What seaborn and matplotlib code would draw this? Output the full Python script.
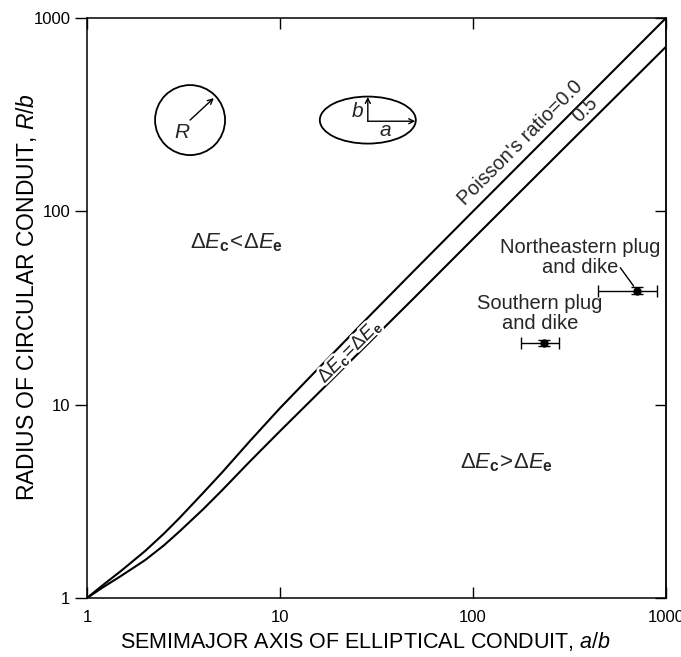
import numpy as np
import pandas as pd
import seaborn as sns
import matplotlib
matplotlib.use("Agg")
import matplotlib.pyplot as plt
import matplotlib.patheffects as pe
from matplotlib.patches import Ellipse, FancyArrowPatch

# ---- data ----
ab_nu0 = [1, 1.2, 1.5, 2, 2.5, 3, 4, 5, 7, 10, 15, 20, 30, 50, 100, 300, 1000]
rb_nu0 = [1, 1.16, 1.38, 1.75, 2.15, 2.58, 3.5, 4.45, 6.5, 9.6, 14.6, 19.6, 29.7, 49.8, 100, 300, 1000]
ab_nu5 = [1, 1.2, 1.5, 2, 2.5, 3, 4, 5, 7, 10, 15, 20, 30, 50, 100, 300, 1000]
rb_nu5 = [1, 1.13, 1.3, 1.57, 1.87, 2.2, 2.88, 3.6, 5.1, 7.3, 10.9, 14.5, 21.7, 36, 72, 215, 710]

site_names = ["Northeastern plug\nand dike", "Southern plug\nand dike"]
site_ab = [707, 233]
site_rb = [38.9, 20.9]
site_ab_lo = [446, 177]
site_ab_hi = [895, 280]
site_rb_lo = [37.4, 20.1]
site_rb_hi = [40.4, 21.7]

x_ticks = [1, 10, 100, 1000]
y_ticks = [1, 10, 100, 1000]
x_label = "SEMIMAJOR AXIS OF ELLIPTICAL CONDUIT, $\\mathit{a/b}$"
y_label = "RADIUS OF CIRCULAR CONDUIT, $\\mathit{R/b}$"

# ---- style ----
sns.set_theme(style="white")
plt.rcParams["font.family"] = ["Liberation Sans", "DejaVu Sans"]
plt.rcParams["mathtext.fontset"] = "custom"
plt.rcParams["mathtext.rm"] = "Liberation Sans"
plt.rcParams["mathtext.it"] = "Liberation Sans:italic"
plt.rcParams["mathtext.bf"] = "Liberation Sans:bold"

fig = plt.figure(figsize=(6.81, 6.57), dpi=100)
ax = fig.add_axes([87 / 681, 1 - 598 / 657, 579 / 681, 580 / 657])

df = pd.DataFrame({
    "ab": ab_nu0 + ab_nu5,
    "rb": rb_nu0 + rb_nu5,
    "nu": ["0.0"] * len(ab_nu0) + ["0.5"] * len(ab_nu5),
})
sns.lineplot(data=df, x="ab", y="rb", hue="nu", palette=["black", "black"],
             legend=False, lw=1.5, ax=ax, zorder=2)

ax.set_xscale("log")
ax.set_yscale("log")
ax.set_xlim(1, 1000)
ax.set_ylim(1, 1000)

# error bars
xerr = [np.array(site_ab) - np.array(site_ab_lo), np.array(site_ab_hi) - np.array(site_ab)]
yerr = [np.array(site_rb) - np.array(site_rb_lo), np.array(site_rb_hi) - np.array(site_rb)]
ax.errorbar(site_ab, site_rb, xerr=xerr, yerr=yerr, fmt="o", color="black",
            ms=5, elinewidth=1.0, capsize=4, capthick=1.0, zorder=3)

# site labels (offsets in points)
ax.annotate(site_names[0], xy=(site_ab[0], site_rb[0]), xytext=(-41, 24),
            textcoords="offset points", ha="center", va="center",
            fontsize=14.5, linespacing=1.05)
ax.annotate(site_names[1], xy=(site_ab[1], site_rb[1]), xytext=(-3, 21),
            textcoords="offset points", ha="center", va="center",
            fontsize=14.5, linespacing=1.05)
ax.annotate("", xy=(site_ab[0], site_rb[0]), xytext=(-12, 16.5),
            textcoords="offset points",
            arrowprops=dict(arrowstyle="-", color="black", lw=1.0,
                            shrinkA=0, shrinkB=4))

# curve labels
ax.text(175, 226, "Poisson's ratio=0.0", rotation=45, ha="center", va="center",
        fontsize=14.2, rotation_mode="anchor")
ax.text(380, 335, "0.5", rotation=45, ha="center", va="center", fontsize=14.2,
        rotation_mode="anchor")
ax.text(23.0, 18.9, r"$\Delta\mathit{E}_{\mathbf{c}}\!=\!\Delta\mathit{E}_{\mathbf{e}}$",
        rotation=45, ha="center", va="center", fontsize=14, rotation_mode="anchor",
        zorder=4, path_effects=[pe.withStroke(linewidth=3.5, foreground="white")])

ax.text(0.258, 0.612, r"$\Delta\mathit{E}_{\mathbf{c}}\!<\!\Delta\mathit{E}_{\mathbf{e}}$",
        transform=ax.transAxes, ha="center", va="center", fontsize=16)
ax.text(0.725, 0.234, r"$\Delta\mathit{E}_{\mathbf{c}}\!>\!\Delta\mathit{E}_{\mathbf{e}}$",
        transform=ax.transAxes, ha="center", va="center", fontsize=16)

# circle and ellipse sketches
circ = Ellipse((0.178, 0.824), 70 / 579, 70 / 580, transform=ax.transAxes,
               fill=False, ec="black", lw=1.3)
ax.add_patch(circ)
ax.add_patch(FancyArrowPatch((0.178, 0.824), (0.219, 0.862), transform=ax.transAxes,
                             arrowstyle="->", mutation_scale=9, color="black", lw=1.0,
                             shrinkA=0, shrinkB=0))
ax.text(0.165, 0.803, "$\\mathit{R}$", transform=ax.transAxes, ha="center", va="center",
        fontsize=15)

ell = Ellipse((0.485, 0.824), 96 / 579, 47 / 580, transform=ax.transAxes,
              fill=False, ec="black", lw=1.3)
ax.add_patch(ell)
ax.add_patch(FancyArrowPatch((0.485, 0.822), (0.485, 0.864), transform=ax.transAxes,
                             arrowstyle="->", mutation_scale=9, color="black", lw=1.0,
                             shrinkA=0, shrinkB=0))
ax.add_patch(FancyArrowPatch((0.485, 0.822), (0.567, 0.822), transform=ax.transAxes,
                             arrowstyle="->", mutation_scale=9, color="black", lw=1.0,
                             shrinkA=0, shrinkB=0))
ax.text(0.468, 0.838, "$\\mathit{b}$", transform=ax.transAxes, ha="center", va="center",
        fontsize=15)
ax.text(0.516, 0.806, "$\\mathit{a}$", transform=ax.transAxes, ha="center", va="center",
        fontsize=15)

# axes styling
for s in ax.spines.values():
    s.set_color("black")
    s.set_linewidth(1.1)
ax.set_xticks(x_ticks)
ax.set_xticklabels([str(t) for t in x_ticks])
ax.set_yticks(y_ticks)
ax.set_yticklabels([str(t) for t in y_ticks])
ax.minorticks_off()
ax.tick_params(axis="x", which="major", direction="in", length=8, width=1.0,
               labelsize=12, pad=9, top=True, bottom=True, colors="black")
ax.tick_params(axis="y", which="major", direction="out", length=9, width=1.0,
               labelsize=12, pad=3, left=True, right=False, colors="black")

sec = ax.secondary_yaxis("right")
sec.set_yticks(y_ticks)
sec.minorticks_off()
sec.tick_params(axis="y", which="major", direction="in", length=8, width=1.0,
                labelright=False, colors="black")
sec.spines["right"].set_linewidth(1.1)

ax.set_xlabel(x_label, fontsize=15.5, color="black")
ax.set_ylabel(y_label, fontsize=16.5, color="black")
ax.xaxis.set_label_coords(0.481, -0.055, transform=ax.transAxes)
ax.xaxis.label.set_va("top")
ax.yaxis.set_label_coords(-0.083, 0.519, transform=ax.transAxes)

fig.savefig("out.png", dpi=100)
